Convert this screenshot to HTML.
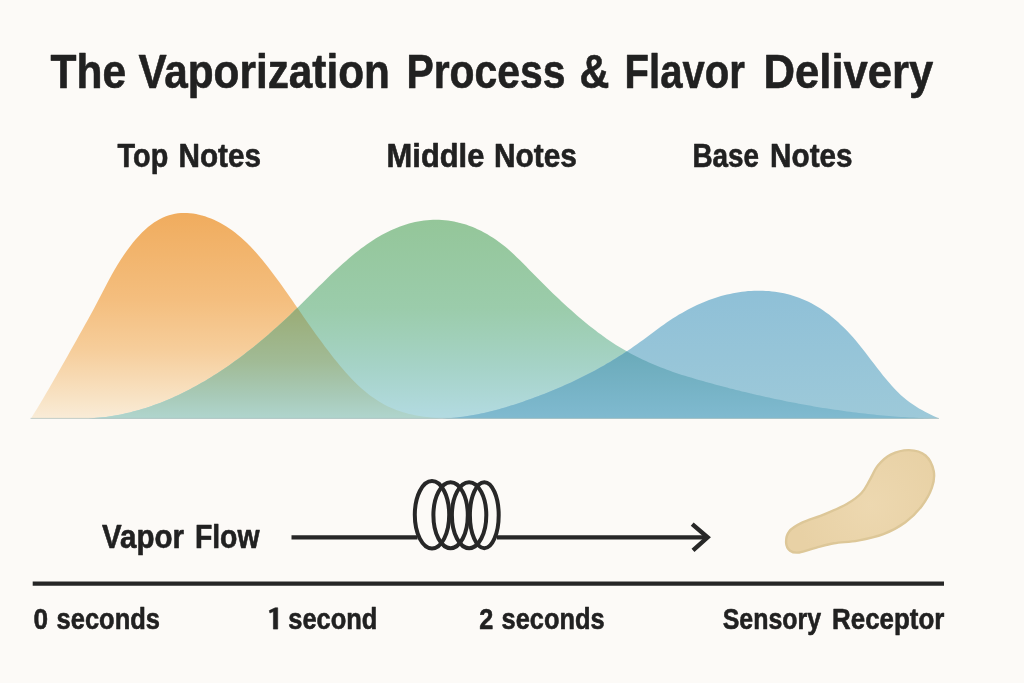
<!DOCTYPE html>
<html><head><meta charset="utf-8">
<style>
html,body{margin:0;padding:0;background:#fcfaf7;}
body{width:1024px;height:683px;overflow:hidden;font-family:"Liberation Sans",sans-serif;}
svg{display:block}
text{font-family:"Liberation Sans",sans-serif;font-weight:bold;fill:#212121;stroke:#212121;stroke-width:0.6px;stroke-linejoin:round;}
</style></head><body>
<svg width="1024" height="683" viewBox="0 0 1024 683">
<defs>
<filter id="nf" x="0" y="0" width="1024" height="683" filterUnits="userSpaceOnUse"><feOffset dx="0" dy="0"/></filter>
<linearGradient id="go" x1="0" y1="213" x2="0" y2="419" gradientUnits="userSpaceOnUse">
<stop offset="0" stop-color="#f0ac5e"/><stop offset="0.42" stop-color="#f4be7e"/><stop offset="0.66" stop-color="#f6cd9a"/><stop offset="0.9" stop-color="#f8e3c5"/><stop offset="1" stop-color="#f9ecd8"/></linearGradient>
<linearGradient id="gg" x1="0" y1="219" x2="0" y2="419" gradientUnits="userSpaceOnUse">
<stop offset="0" stop-color="#94c699"/><stop offset="0.45" stop-color="#9bccab"/><stop offset="0.75" stop-color="#a6d3c8"/><stop offset="1" stop-color="#b3dbe2"/></linearGradient>
<linearGradient id="gb" x1="0" y1="291" x2="0" y2="419" gradientUnits="userSpaceOnUse">
<stop offset="0" stop-color="#8fc0d7"/><stop offset="1" stop-color="#9dc9d9"/></linearGradient>
<linearGradient id="gog" x1="0" y1="305" x2="0" y2="419" gradientUnits="userSpaceOnUse">
<stop offset="0" stop-color="#9aab74"/><stop offset="0.5" stop-color="#a1bb96"/><stop offset="0.8" stop-color="#a8cab8"/><stop offset="1" stop-color="#b0d5ce"/></linearGradient>
<linearGradient id="ggb" x1="0" y1="350" x2="0" y2="419" gradientUnits="userSpaceOnUse">
<stop offset="0" stop-color="#6aaab9"/><stop offset="1" stop-color="#80bad0"/></linearGradient>
<radialGradient id="gblob" cx="870" cy="505" r="75" gradientUnits="userSpaceOnUse"><stop offset="0" stop-color="#edd8b0"/><stop offset="1" stop-color="#e8d1a5"/></radialGradient>
<clipPath id="co"><path d="M31.0 418.5 L34.0 413.6 L37.0 408.7 L40.0 403.7 L43.0 398.7 L46.0 393.6 L49.0 388.4 L52.0 383.2 L55.0 378.0 L58.0 372.8 L61.0 367.5 L64.0 362.2 L67.0 356.9 L70.0 351.6 L73.0 346.2 L76.0 340.9 L79.0 335.6 L82.0 330.2 L85.0 324.8 L88.0 319.4 L91.0 313.9 L94.0 308.4 L97.0 302.7 L100.0 297.0 L103.0 291.2 L106.0 285.4 L109.0 279.8 L112.0 274.3 L115.0 269.0 L118.0 264.0 L121.0 259.3 L124.0 254.7 L127.0 250.4 L130.0 246.4 L133.0 242.6 L136.0 239.0 L139.0 235.7 L142.0 232.6 L145.0 229.8 L148.0 227.1 L151.0 224.8 L154.0 222.6 L157.0 220.7 L160.0 219.0 L163.0 217.6 L166.0 216.3 L169.0 215.3 L172.0 214.5 L175.0 213.8 L178.0 213.3 L181.0 213.1 L184.0 212.9 L187.0 213.0 L190.0 213.2 L193.0 213.5 L196.0 214.0 L199.0 214.7 L202.0 215.4 L205.0 216.3 L208.0 217.4 L211.0 218.5 L214.0 219.8 L217.0 221.2 L220.0 222.8 L223.0 224.4 L226.0 226.3 L229.0 228.2 L232.0 230.3 L235.0 232.6 L238.0 235.0 L241.0 237.5 L244.0 240.2 L247.0 243.1 L250.0 246.1 L253.0 249.2 L256.0 252.5 L259.0 256.0 L262.0 259.5 L265.0 263.2 L268.0 267.0 L271.0 270.9 L274.0 274.9 L277.0 279.0 L280.0 283.1 L283.0 287.3 L286.0 291.5 L289.0 295.8 L292.0 300.1 L295.0 304.4 L298.0 308.7 L301.0 313.1 L304.0 317.4 L307.0 321.7 L310.0 325.9 L313.0 330.2 L316.0 334.4 L319.0 338.5 L322.0 342.6 L325.0 346.7 L328.0 350.6 L331.0 354.5 L334.0 358.4 L337.0 362.1 L340.0 365.7 L343.0 369.3 L346.0 372.7 L349.0 376.0 L352.0 379.2 L355.0 382.3 L358.0 385.2 L361.0 388.0 L364.0 390.6 L367.0 393.1 L370.0 395.4 L373.0 397.6 L376.0 399.6 L379.0 401.5 L382.0 403.2 L385.0 404.9 L388.0 406.4 L391.0 407.8 L394.0 409.0 L397.0 410.2 L400.0 411.3 L403.0 412.2 L406.0 413.1 L409.0 413.9 L412.0 414.6 L415.0 415.3 L418.0 415.8 L421.0 416.3 L424.0 416.7 L427.0 417.1 L430.0 417.5 L433.0 417.7 L436.0 418.0 L439.0 418.2 L442.0 418.4 L445.0 418.5Z"/></clipPath>
<clipPath id="cg"><path d="M85.0 418.5 L88.0 418.4 L91.0 418.3 L94.0 418.1 L97.0 417.8 L100.0 417.6 L103.0 417.2 L106.0 416.9 L109.0 416.5 L112.0 416.0 L115.0 415.5 L118.0 415.0 L121.0 414.4 L124.0 413.8 L127.0 413.1 L130.0 412.4 L133.0 411.6 L136.0 410.8 L139.0 410.0 L142.0 409.1 L145.0 408.2 L148.0 407.2 L151.0 406.2 L154.0 405.1 L157.0 404.0 L160.0 402.9 L163.0 401.7 L166.0 400.5 L169.0 399.2 L172.0 397.9 L175.0 396.6 L178.0 395.2 L181.0 393.8 L184.0 392.3 L187.0 390.8 L190.0 389.2 L193.0 387.6 L196.0 386.0 L199.0 384.3 L202.0 382.6 L205.0 380.9 L208.0 379.1 L211.0 377.2 L214.0 375.3 L217.0 373.4 L220.0 371.5 L223.0 369.5 L226.0 367.4 L229.0 365.4 L232.0 363.3 L235.0 361.1 L238.0 358.9 L241.0 356.7 L244.0 354.4 L247.0 352.1 L250.0 349.8 L253.0 347.4 L256.0 345.0 L259.0 342.5 L262.0 340.0 L265.0 337.5 L268.0 334.9 L271.0 332.3 L274.0 329.6 L277.0 327.0 L280.0 324.2 L283.0 321.5 L286.0 318.7 L289.0 315.9 L292.0 313.0 L295.0 310.1 L298.0 307.2 L301.0 304.3 L304.0 301.3 L307.0 298.3 L310.0 295.3 L313.0 292.3 L316.0 289.3 L319.0 286.3 L322.0 283.4 L325.0 280.4 L328.0 277.5 L331.0 274.6 L334.0 271.8 L337.0 269.0 L340.0 266.2 L343.0 263.5 L346.0 260.9 L349.0 258.3 L352.0 255.8 L355.0 253.3 L358.0 250.9 L361.0 248.6 L364.0 246.4 L367.0 244.3 L370.0 242.2 L373.0 240.2 L376.0 238.3 L379.0 236.5 L382.0 234.8 L385.0 233.2 L388.0 231.7 L391.0 230.3 L394.0 228.9 L397.0 227.7 L400.0 226.5 L403.0 225.4 L406.0 224.5 L409.0 223.6 L412.0 222.8 L415.0 222.1 L418.0 221.5 L421.0 220.9 L424.0 220.5 L427.0 220.2 L430.0 220.0 L433.0 219.8 L436.0 219.8 L439.0 219.8 L442.0 220.0 L445.0 220.2 L448.0 220.6 L451.0 221.0 L454.0 221.5 L457.0 222.2 L460.0 222.9 L463.0 223.7 L466.0 224.6 L469.0 225.7 L472.0 226.8 L475.0 228.0 L478.0 229.4 L481.0 230.8 L484.0 232.4 L487.0 234.1 L490.0 235.9 L493.0 237.8 L496.0 239.8 L499.0 242.0 L502.0 244.2 L505.0 246.6 L508.0 249.1 L511.0 251.8 L514.0 254.5 L517.0 257.4 L520.0 260.3 L523.0 263.3 L526.0 266.3 L529.0 269.4 L532.0 272.4 L535.0 275.5 L538.0 278.5 L541.0 281.6 L544.0 284.6 L547.0 287.5 L550.0 290.5 L553.0 293.4 L556.0 296.3 L559.0 299.1 L562.0 301.9 L565.0 304.7 L568.0 307.4 L571.0 310.1 L574.0 312.8 L577.0 315.4 L580.0 317.9 L583.0 320.5 L586.0 322.9 L589.0 325.4 L592.0 327.8 L595.0 330.1 L598.0 332.4 L601.0 334.6 L604.0 336.8 L607.0 338.9 L610.0 340.9 L613.0 342.9 L616.0 344.9 L619.0 346.7 L622.0 348.6 L625.0 350.3 L628.0 352.0 L631.0 353.7 L634.0 355.2 L637.0 356.8 L640.0 358.3 L643.0 359.7 L646.0 361.1 L649.0 362.5 L652.0 363.8 L655.0 365.0 L658.0 366.3 L661.0 367.4 L664.0 368.6 L667.0 369.7 L670.0 370.8 L673.0 371.9 L676.0 372.9 L679.0 373.9 L682.0 374.9 L685.0 375.8 L688.0 376.7 L691.0 377.6 L694.0 378.5 L697.0 379.4 L700.0 380.3 L703.0 381.1 L706.0 382.0 L709.0 382.8 L712.0 383.6 L715.0 384.4 L718.0 385.2 L721.0 386.0 L724.0 386.8 L727.0 387.6 L730.0 388.4 L733.0 389.1 L736.0 389.9 L739.0 390.6 L742.0 391.4 L745.0 392.1 L748.0 392.8 L751.0 393.5 L754.0 394.2 L757.0 394.9 L760.0 395.6 L763.0 396.3 L766.0 396.9 L769.0 397.6 L772.0 398.3 L775.0 398.9 L778.0 399.5 L781.0 400.1 L784.0 400.8 L787.0 401.4 L790.0 402.0 L793.0 402.5 L796.0 403.1 L799.0 403.7 L802.0 404.2 L805.0 404.8 L808.0 405.3 L811.0 405.8 L814.0 406.4 L817.0 406.9 L820.0 407.4 L823.0 407.9 L826.0 408.3 L829.0 408.8 L832.0 409.3 L835.0 409.7 L838.0 410.1 L841.0 410.6 L844.0 411.0 L847.0 411.4 L850.0 411.8 L853.0 412.2 L856.0 412.5 L859.0 412.9 L862.0 413.3 L865.0 413.6 L868.0 413.9 L871.0 414.3 L874.0 414.6 L877.0 414.9 L880.0 415.2 L883.0 415.4 L886.0 415.7 L889.0 416.0 L892.0 416.2 L895.0 416.4 L898.0 416.7 L901.0 416.9 L904.0 417.1 L907.0 417.3 L910.0 417.5 L913.0 417.6 L916.0 417.8 L919.0 417.9 L922.0 418.1 L925.0 418.2 L928.0 418.3 L931.0 418.4 L934.0 418.5 L936.0 418.5Z"/></clipPath>
</defs>
<rect width="1024" height="683" fill="#fcfaf7"/>
<g filter="url(#nf)">
<text x="50.50" y="87.70" font-size="47.50" textLength="75.51" lengthAdjust="spacingAndGlyphs" stroke-width="1">The</text>
<text x="138.40" y="87.70" font-size="47.50" textLength="251.42" lengthAdjust="spacingAndGlyphs" stroke-width="1">Vaporization</text>
<text x="406.40" y="87.70" font-size="47.50" textLength="158.97" lengthAdjust="spacingAndGlyphs" stroke-width="1">Process</text>
<text x="579.40" y="87.70" font-size="47.50" textLength="29.89" lengthAdjust="spacingAndGlyphs" stroke-width="1">&amp;</text>
<text x="624.60" y="87.70" font-size="47.50" textLength="120.34" lengthAdjust="spacingAndGlyphs" stroke-width="1">Flavor</text>
<text x="763.50" y="87.70" font-size="47.50" textLength="169.87" lengthAdjust="spacingAndGlyphs" stroke-width="1">Delivery</text>
<text x="117.60" y="166.50" font-size="32.50" textLength="50.65" lengthAdjust="spacingAndGlyphs">Top</text><text x="178.50" y="166.50" font-size="32.50" textLength="82.55" lengthAdjust="spacingAndGlyphs">Notes</text>
<text x="386.60" y="166.50" font-size="32.50" textLength="97.75" lengthAdjust="spacingAndGlyphs">Middle</text><text x="494.00" y="166.50" font-size="32.50" textLength="82.95" lengthAdjust="spacingAndGlyphs">Notes</text>
<text x="692.50" y="166.50" font-size="32.50" textLength="66.62" lengthAdjust="spacingAndGlyphs">Base</text><text x="770.10" y="166.50" font-size="32.50" textLength="82.45" lengthAdjust="spacingAndGlyphs">Notes</text>
<path d="M31.0 418.5 L34.0 413.6 L37.0 408.7 L40.0 403.7 L43.0 398.7 L46.0 393.6 L49.0 388.4 L52.0 383.2 L55.0 378.0 L58.0 372.8 L61.0 367.5 L64.0 362.2 L67.0 356.9 L70.0 351.6 L73.0 346.2 L76.0 340.9 L79.0 335.6 L82.0 330.2 L85.0 324.8 L88.0 319.4 L91.0 313.9 L94.0 308.4 L97.0 302.7 L100.0 297.0 L103.0 291.2 L106.0 285.4 L109.0 279.8 L112.0 274.3 L115.0 269.0 L118.0 264.0 L121.0 259.3 L124.0 254.7 L127.0 250.4 L130.0 246.4 L133.0 242.6 L136.0 239.0 L139.0 235.7 L142.0 232.6 L145.0 229.8 L148.0 227.1 L151.0 224.8 L154.0 222.6 L157.0 220.7 L160.0 219.0 L163.0 217.6 L166.0 216.3 L169.0 215.3 L172.0 214.5 L175.0 213.8 L178.0 213.3 L181.0 213.1 L184.0 212.9 L187.0 213.0 L190.0 213.2 L193.0 213.5 L196.0 214.0 L199.0 214.7 L202.0 215.4 L205.0 216.3 L208.0 217.4 L211.0 218.5 L214.0 219.8 L217.0 221.2 L220.0 222.8 L223.0 224.4 L226.0 226.3 L229.0 228.2 L232.0 230.3 L235.0 232.6 L238.0 235.0 L241.0 237.5 L244.0 240.2 L247.0 243.1 L250.0 246.1 L253.0 249.2 L256.0 252.5 L259.0 256.0 L262.0 259.5 L265.0 263.2 L268.0 267.0 L271.0 270.9 L274.0 274.9 L277.0 279.0 L280.0 283.1 L283.0 287.3 L286.0 291.5 L289.0 295.8 L292.0 300.1 L295.0 304.4 L298.0 308.7 L301.0 313.1 L304.0 317.4 L307.0 321.7 L310.0 325.9 L313.0 330.2 L316.0 334.4 L319.0 338.5 L322.0 342.6 L325.0 346.7 L328.0 350.6 L331.0 354.5 L334.0 358.4 L337.0 362.1 L340.0 365.7 L343.0 369.3 L346.0 372.7 L349.0 376.0 L352.0 379.2 L355.0 382.3 L358.0 385.2 L361.0 388.0 L364.0 390.6 L367.0 393.1 L370.0 395.4 L373.0 397.6 L376.0 399.6 L379.0 401.5 L382.0 403.2 L385.0 404.9 L388.0 406.4 L391.0 407.8 L394.0 409.0 L397.0 410.2 L400.0 411.3 L403.0 412.2 L406.0 413.1 L409.0 413.9 L412.0 414.6 L415.0 415.3 L418.0 415.8 L421.0 416.3 L424.0 416.7 L427.0 417.1 L430.0 417.5 L433.0 417.7 L436.0 418.0 L439.0 418.2 L442.0 418.4 L445.0 418.5Z" fill="url(#go)"/>
<path d="M85.0 418.5 L88.0 418.4 L91.0 418.3 L94.0 418.1 L97.0 417.8 L100.0 417.6 L103.0 417.2 L106.0 416.9 L109.0 416.5 L112.0 416.0 L115.0 415.5 L118.0 415.0 L121.0 414.4 L124.0 413.8 L127.0 413.1 L130.0 412.4 L133.0 411.6 L136.0 410.8 L139.0 410.0 L142.0 409.1 L145.0 408.2 L148.0 407.2 L151.0 406.2 L154.0 405.1 L157.0 404.0 L160.0 402.9 L163.0 401.7 L166.0 400.5 L169.0 399.2 L172.0 397.9 L175.0 396.6 L178.0 395.2 L181.0 393.8 L184.0 392.3 L187.0 390.8 L190.0 389.2 L193.0 387.6 L196.0 386.0 L199.0 384.3 L202.0 382.6 L205.0 380.9 L208.0 379.1 L211.0 377.2 L214.0 375.3 L217.0 373.4 L220.0 371.5 L223.0 369.5 L226.0 367.4 L229.0 365.4 L232.0 363.3 L235.0 361.1 L238.0 358.9 L241.0 356.7 L244.0 354.4 L247.0 352.1 L250.0 349.8 L253.0 347.4 L256.0 345.0 L259.0 342.5 L262.0 340.0 L265.0 337.5 L268.0 334.9 L271.0 332.3 L274.0 329.6 L277.0 327.0 L280.0 324.2 L283.0 321.5 L286.0 318.7 L289.0 315.9 L292.0 313.0 L295.0 310.1 L298.0 307.2 L301.0 304.3 L304.0 301.3 L307.0 298.3 L310.0 295.3 L313.0 292.3 L316.0 289.3 L319.0 286.3 L322.0 283.4 L325.0 280.4 L328.0 277.5 L331.0 274.6 L334.0 271.8 L337.0 269.0 L340.0 266.2 L343.0 263.5 L346.0 260.9 L349.0 258.3 L352.0 255.8 L355.0 253.3 L358.0 250.9 L361.0 248.6 L364.0 246.4 L367.0 244.3 L370.0 242.2 L373.0 240.2 L376.0 238.3 L379.0 236.5 L382.0 234.8 L385.0 233.2 L388.0 231.7 L391.0 230.3 L394.0 228.9 L397.0 227.7 L400.0 226.5 L403.0 225.4 L406.0 224.5 L409.0 223.6 L412.0 222.8 L415.0 222.1 L418.0 221.5 L421.0 220.9 L424.0 220.5 L427.0 220.2 L430.0 220.0 L433.0 219.8 L436.0 219.8 L439.0 219.8 L442.0 220.0 L445.0 220.2 L448.0 220.6 L451.0 221.0 L454.0 221.5 L457.0 222.2 L460.0 222.9 L463.0 223.7 L466.0 224.6 L469.0 225.7 L472.0 226.8 L475.0 228.0 L478.0 229.4 L481.0 230.8 L484.0 232.4 L487.0 234.1 L490.0 235.9 L493.0 237.8 L496.0 239.8 L499.0 242.0 L502.0 244.2 L505.0 246.6 L508.0 249.1 L511.0 251.8 L514.0 254.5 L517.0 257.4 L520.0 260.3 L523.0 263.3 L526.0 266.3 L529.0 269.4 L532.0 272.4 L535.0 275.5 L538.0 278.5 L541.0 281.6 L544.0 284.6 L547.0 287.5 L550.0 290.5 L553.0 293.4 L556.0 296.3 L559.0 299.1 L562.0 301.9 L565.0 304.7 L568.0 307.4 L571.0 310.1 L574.0 312.8 L577.0 315.4 L580.0 317.9 L583.0 320.5 L586.0 322.9 L589.0 325.4 L592.0 327.8 L595.0 330.1 L598.0 332.4 L601.0 334.6 L604.0 336.8 L607.0 338.9 L610.0 340.9 L613.0 342.9 L616.0 344.9 L619.0 346.7 L622.0 348.6 L625.0 350.3 L628.0 352.0 L631.0 353.7 L634.0 355.2 L637.0 356.8 L640.0 358.3 L643.0 359.7 L646.0 361.1 L649.0 362.5 L652.0 363.8 L655.0 365.0 L658.0 366.3 L661.0 367.4 L664.0 368.6 L667.0 369.7 L670.0 370.8 L673.0 371.9 L676.0 372.9 L679.0 373.9 L682.0 374.9 L685.0 375.8 L688.0 376.7 L691.0 377.6 L694.0 378.5 L697.0 379.4 L700.0 380.3 L703.0 381.1 L706.0 382.0 L709.0 382.8 L712.0 383.6 L715.0 384.4 L718.0 385.2 L721.0 386.0 L724.0 386.8 L727.0 387.6 L730.0 388.4 L733.0 389.1 L736.0 389.9 L739.0 390.6 L742.0 391.4 L745.0 392.1 L748.0 392.8 L751.0 393.5 L754.0 394.2 L757.0 394.9 L760.0 395.6 L763.0 396.3 L766.0 396.9 L769.0 397.6 L772.0 398.3 L775.0 398.9 L778.0 399.5 L781.0 400.1 L784.0 400.8 L787.0 401.4 L790.0 402.0 L793.0 402.5 L796.0 403.1 L799.0 403.7 L802.0 404.2 L805.0 404.8 L808.0 405.3 L811.0 405.8 L814.0 406.4 L817.0 406.9 L820.0 407.4 L823.0 407.9 L826.0 408.3 L829.0 408.8 L832.0 409.3 L835.0 409.7 L838.0 410.1 L841.0 410.6 L844.0 411.0 L847.0 411.4 L850.0 411.8 L853.0 412.2 L856.0 412.5 L859.0 412.9 L862.0 413.3 L865.0 413.6 L868.0 413.9 L871.0 414.3 L874.0 414.6 L877.0 414.9 L880.0 415.2 L883.0 415.4 L886.0 415.7 L889.0 416.0 L892.0 416.2 L895.0 416.4 L898.0 416.7 L901.0 416.9 L904.0 417.1 L907.0 417.3 L910.0 417.5 L913.0 417.6 L916.0 417.8 L919.0 417.9 L922.0 418.1 L925.0 418.2 L928.0 418.3 L931.0 418.4 L934.0 418.5 L936.0 418.5Z" fill="url(#gg)"/>
<path d="M436.0 418.5 L439.0 418.5 L442.0 418.4 L445.0 418.3 L448.0 418.1 L451.0 417.9 L454.0 417.7 L457.0 417.4 L460.0 417.0 L463.0 416.7 L466.0 416.2 L469.0 415.8 L472.0 415.3 L475.0 414.7 L478.0 414.2 L481.0 413.6 L484.0 412.9 L487.0 412.2 L490.0 411.5 L493.0 410.8 L496.0 410.0 L499.0 409.2 L502.0 408.3 L505.0 407.5 L508.0 406.6 L511.0 405.6 L514.0 404.7 L517.0 403.7 L520.0 402.7 L523.0 401.7 L526.0 400.6 L529.0 399.5 L532.0 398.5 L535.0 397.3 L538.0 396.2 L541.0 395.0 L544.0 393.9 L547.0 392.7 L550.0 391.5 L553.0 390.2 L556.0 389.0 L559.0 387.7 L562.0 386.4 L565.0 385.1 L568.0 383.7 L571.0 382.4 L574.0 381.0 L577.0 379.6 L580.0 378.1 L583.0 376.6 L586.0 375.1 L589.0 373.6 L592.0 372.0 L595.0 370.4 L598.0 368.8 L601.0 367.1 L604.0 365.4 L607.0 363.6 L610.0 361.9 L613.0 360.1 L616.0 358.2 L619.0 356.3 L622.0 354.4 L625.0 352.4 L628.0 350.4 L631.0 348.4 L634.0 346.3 L637.0 344.2 L640.0 342.1 L643.0 339.9 L646.0 337.7 L649.0 335.4 L652.0 333.2 L655.0 330.9 L658.0 328.7 L661.0 326.5 L664.0 324.4 L667.0 322.3 L670.0 320.3 L673.0 318.3 L676.0 316.4 L679.0 314.6 L682.0 312.9 L685.0 311.2 L688.0 309.6 L691.0 308.0 L694.0 306.5 L697.0 305.1 L700.0 303.8 L703.0 302.5 L706.0 301.2 L709.0 300.1 L712.0 299.0 L715.0 298.0 L718.0 297.0 L721.0 296.1 L724.0 295.3 L727.0 294.5 L730.0 293.9 L733.0 293.2 L736.0 292.7 L739.0 292.2 L742.0 291.8 L745.0 291.4 L748.0 291.1 L751.0 290.9 L754.0 290.8 L757.0 290.7 L760.0 290.7 L763.0 290.8 L766.0 290.9 L769.0 291.1 L772.0 291.4 L775.0 291.7 L778.0 292.2 L781.0 292.7 L784.0 293.3 L787.0 294.0 L790.0 294.8 L793.0 295.7 L796.0 296.7 L799.0 297.7 L802.0 298.9 L805.0 300.2 L808.0 301.6 L811.0 303.1 L814.0 304.7 L817.0 306.5 L820.0 308.3 L823.0 310.3 L826.0 312.4 L829.0 314.6 L832.0 317.0 L835.0 319.5 L838.0 322.1 L841.0 324.9 L844.0 327.8 L847.0 330.8 L850.0 334.0 L853.0 337.3 L856.0 340.8 L859.0 344.5 L862.0 348.2 L865.0 352.1 L868.0 355.9 L871.0 359.9 L874.0 363.8 L877.0 367.7 L880.0 371.6 L883.0 375.4 L886.0 379.1 L889.0 382.6 L892.0 386.1 L895.0 389.3 L898.0 392.3 L901.0 395.2 L904.0 397.8 L907.0 400.2 L910.0 402.5 L913.0 404.6 L916.0 406.6 L919.0 408.4 L922.0 410.1 L925.0 411.8 L928.0 413.3 L931.0 414.8 L934.0 416.2 L937.0 417.6 L939.0 418.5Z" fill="url(#gb)"/>
<g clip-path="url(#co)"><path d="M85.0 418.5 L88.0 418.4 L91.0 418.3 L94.0 418.1 L97.0 417.8 L100.0 417.6 L103.0 417.2 L106.0 416.9 L109.0 416.5 L112.0 416.0 L115.0 415.5 L118.0 415.0 L121.0 414.4 L124.0 413.8 L127.0 413.1 L130.0 412.4 L133.0 411.6 L136.0 410.8 L139.0 410.0 L142.0 409.1 L145.0 408.2 L148.0 407.2 L151.0 406.2 L154.0 405.1 L157.0 404.0 L160.0 402.9 L163.0 401.7 L166.0 400.5 L169.0 399.2 L172.0 397.9 L175.0 396.6 L178.0 395.2 L181.0 393.8 L184.0 392.3 L187.0 390.8 L190.0 389.2 L193.0 387.6 L196.0 386.0 L199.0 384.3 L202.0 382.6 L205.0 380.9 L208.0 379.1 L211.0 377.2 L214.0 375.3 L217.0 373.4 L220.0 371.5 L223.0 369.5 L226.0 367.4 L229.0 365.4 L232.0 363.3 L235.0 361.1 L238.0 358.9 L241.0 356.7 L244.0 354.4 L247.0 352.1 L250.0 349.8 L253.0 347.4 L256.0 345.0 L259.0 342.5 L262.0 340.0 L265.0 337.5 L268.0 334.9 L271.0 332.3 L274.0 329.6 L277.0 327.0 L280.0 324.2 L283.0 321.5 L286.0 318.7 L289.0 315.9 L292.0 313.0 L295.0 310.1 L298.0 307.2 L301.0 304.3 L304.0 301.3 L307.0 298.3 L310.0 295.3 L313.0 292.3 L316.0 289.3 L319.0 286.3 L322.0 283.4 L325.0 280.4 L328.0 277.5 L331.0 274.6 L334.0 271.8 L337.0 269.0 L340.0 266.2 L343.0 263.5 L346.0 260.9 L349.0 258.3 L352.0 255.8 L355.0 253.3 L358.0 250.9 L361.0 248.6 L364.0 246.4 L367.0 244.3 L370.0 242.2 L373.0 240.2 L376.0 238.3 L379.0 236.5 L382.0 234.8 L385.0 233.2 L388.0 231.7 L391.0 230.3 L394.0 228.9 L397.0 227.7 L400.0 226.5 L403.0 225.4 L406.0 224.5 L409.0 223.6 L412.0 222.8 L415.0 222.1 L418.0 221.5 L421.0 220.9 L424.0 220.5 L427.0 220.2 L430.0 220.0 L433.0 219.8 L436.0 219.8 L439.0 219.8 L442.0 220.0 L445.0 220.2 L448.0 220.6 L451.0 221.0 L454.0 221.5 L457.0 222.2 L460.0 222.9 L463.0 223.7 L466.0 224.6 L469.0 225.7 L472.0 226.8 L475.0 228.0 L478.0 229.4 L481.0 230.8 L484.0 232.4 L487.0 234.1 L490.0 235.9 L493.0 237.8 L496.0 239.8 L499.0 242.0 L502.0 244.2 L505.0 246.6 L508.0 249.1 L511.0 251.8 L514.0 254.5 L517.0 257.4 L520.0 260.3 L523.0 263.3 L526.0 266.3 L529.0 269.4 L532.0 272.4 L535.0 275.5 L538.0 278.5 L541.0 281.6 L544.0 284.6 L547.0 287.5 L550.0 290.5 L553.0 293.4 L556.0 296.3 L559.0 299.1 L562.0 301.9 L565.0 304.7 L568.0 307.4 L571.0 310.1 L574.0 312.8 L577.0 315.4 L580.0 317.9 L583.0 320.5 L586.0 322.9 L589.0 325.4 L592.0 327.8 L595.0 330.1 L598.0 332.4 L601.0 334.6 L604.0 336.8 L607.0 338.9 L610.0 340.9 L613.0 342.9 L616.0 344.9 L619.0 346.7 L622.0 348.6 L625.0 350.3 L628.0 352.0 L631.0 353.7 L634.0 355.2 L637.0 356.8 L640.0 358.3 L643.0 359.7 L646.0 361.1 L649.0 362.5 L652.0 363.8 L655.0 365.0 L658.0 366.3 L661.0 367.4 L664.0 368.6 L667.0 369.7 L670.0 370.8 L673.0 371.9 L676.0 372.9 L679.0 373.9 L682.0 374.9 L685.0 375.8 L688.0 376.7 L691.0 377.6 L694.0 378.5 L697.0 379.4 L700.0 380.3 L703.0 381.1 L706.0 382.0 L709.0 382.8 L712.0 383.6 L715.0 384.4 L718.0 385.2 L721.0 386.0 L724.0 386.8 L727.0 387.6 L730.0 388.4 L733.0 389.1 L736.0 389.9 L739.0 390.6 L742.0 391.4 L745.0 392.1 L748.0 392.8 L751.0 393.5 L754.0 394.2 L757.0 394.9 L760.0 395.6 L763.0 396.3 L766.0 396.9 L769.0 397.6 L772.0 398.3 L775.0 398.9 L778.0 399.5 L781.0 400.1 L784.0 400.8 L787.0 401.4 L790.0 402.0 L793.0 402.5 L796.0 403.1 L799.0 403.7 L802.0 404.2 L805.0 404.8 L808.0 405.3 L811.0 405.8 L814.0 406.4 L817.0 406.9 L820.0 407.4 L823.0 407.9 L826.0 408.3 L829.0 408.8 L832.0 409.3 L835.0 409.7 L838.0 410.1 L841.0 410.6 L844.0 411.0 L847.0 411.4 L850.0 411.8 L853.0 412.2 L856.0 412.5 L859.0 412.9 L862.0 413.3 L865.0 413.6 L868.0 413.9 L871.0 414.3 L874.0 414.6 L877.0 414.9 L880.0 415.2 L883.0 415.4 L886.0 415.7 L889.0 416.0 L892.0 416.2 L895.0 416.4 L898.0 416.7 L901.0 416.9 L904.0 417.1 L907.0 417.3 L910.0 417.5 L913.0 417.6 L916.0 417.8 L919.0 417.9 L922.0 418.1 L925.0 418.2 L928.0 418.3 L931.0 418.4 L934.0 418.5 L936.0 418.5Z" fill="url(#gog)"/></g>
<g clip-path="url(#cg)"><path d="M436.0 418.5 L439.0 418.5 L442.0 418.4 L445.0 418.3 L448.0 418.1 L451.0 417.9 L454.0 417.7 L457.0 417.4 L460.0 417.0 L463.0 416.7 L466.0 416.2 L469.0 415.8 L472.0 415.3 L475.0 414.7 L478.0 414.2 L481.0 413.6 L484.0 412.9 L487.0 412.2 L490.0 411.5 L493.0 410.8 L496.0 410.0 L499.0 409.2 L502.0 408.3 L505.0 407.5 L508.0 406.6 L511.0 405.6 L514.0 404.7 L517.0 403.7 L520.0 402.7 L523.0 401.7 L526.0 400.6 L529.0 399.5 L532.0 398.5 L535.0 397.3 L538.0 396.2 L541.0 395.0 L544.0 393.9 L547.0 392.7 L550.0 391.5 L553.0 390.2 L556.0 389.0 L559.0 387.7 L562.0 386.4 L565.0 385.1 L568.0 383.7 L571.0 382.4 L574.0 381.0 L577.0 379.6 L580.0 378.1 L583.0 376.6 L586.0 375.1 L589.0 373.6 L592.0 372.0 L595.0 370.4 L598.0 368.8 L601.0 367.1 L604.0 365.4 L607.0 363.6 L610.0 361.9 L613.0 360.1 L616.0 358.2 L619.0 356.3 L622.0 354.4 L625.0 352.4 L628.0 350.4 L631.0 348.4 L634.0 346.3 L637.0 344.2 L640.0 342.1 L643.0 339.9 L646.0 337.7 L649.0 335.4 L652.0 333.2 L655.0 330.9 L658.0 328.7 L661.0 326.5 L664.0 324.4 L667.0 322.3 L670.0 320.3 L673.0 318.3 L676.0 316.4 L679.0 314.6 L682.0 312.9 L685.0 311.2 L688.0 309.6 L691.0 308.0 L694.0 306.5 L697.0 305.1 L700.0 303.8 L703.0 302.5 L706.0 301.2 L709.0 300.1 L712.0 299.0 L715.0 298.0 L718.0 297.0 L721.0 296.1 L724.0 295.3 L727.0 294.5 L730.0 293.9 L733.0 293.2 L736.0 292.7 L739.0 292.2 L742.0 291.8 L745.0 291.4 L748.0 291.1 L751.0 290.9 L754.0 290.8 L757.0 290.7 L760.0 290.7 L763.0 290.8 L766.0 290.9 L769.0 291.1 L772.0 291.4 L775.0 291.7 L778.0 292.2 L781.0 292.7 L784.0 293.3 L787.0 294.0 L790.0 294.8 L793.0 295.7 L796.0 296.7 L799.0 297.7 L802.0 298.9 L805.0 300.2 L808.0 301.6 L811.0 303.1 L814.0 304.7 L817.0 306.5 L820.0 308.3 L823.0 310.3 L826.0 312.4 L829.0 314.6 L832.0 317.0 L835.0 319.5 L838.0 322.1 L841.0 324.9 L844.0 327.8 L847.0 330.8 L850.0 334.0 L853.0 337.3 L856.0 340.8 L859.0 344.5 L862.0 348.2 L865.0 352.1 L868.0 355.9 L871.0 359.9 L874.0 363.8 L877.0 367.7 L880.0 371.6 L883.0 375.4 L886.0 379.1 L889.0 382.6 L892.0 386.1 L895.0 389.3 L898.0 392.3 L901.0 395.2 L904.0 397.8 L907.0 400.2 L910.0 402.5 L913.0 404.6 L916.0 406.6 L919.0 408.4 L922.0 410.1 L925.0 411.8 L928.0 413.3 L931.0 414.8 L934.0 416.2 L937.0 417.6 L939.0 418.5Z" fill="url(#ggb)"/></g>
<path d="M30.5 418.4H939" stroke="#9fb4b4" stroke-opacity="0.6" stroke-width="1" fill="none"/>
<text x="102.00" y="547.90" font-size="32.50" textLength="81.97" lengthAdjust="spacingAndGlyphs">Vapor</text><text x="194.90" y="547.90" font-size="32.50" textLength="64.62" lengthAdjust="spacingAndGlyphs">Flow</text>
<g fill="none" stroke="#272727" stroke-width="4">
<path d="M291.5 537.4H417.5" stroke-width="4.2"/>
<path d="M497 537.4H706.5" stroke-width="4.2"/>
<path d="M692.2 524.1L707.6 537.4L693 550.4" stroke-width="4.4" stroke-linejoin="miter"/>
<ellipse cx="432" cy="514.8" rx="17.2" ry="33.7"/>
<ellipse cx="450.6" cy="515.2" rx="17.2" ry="33"/>
<ellipse cx="469.1" cy="515.2" rx="17.2" ry="33"/>
<ellipse cx="484.3" cy="515.2" rx="14.4" ry="33"/>
</g>
<path d="M786.1 542.4 C786.0 539.2 786.7 534.7 789.2 531.5 C791.7 528.3 795.2 526.1 801.1 523.2 C807.0 520.3 817.3 517.3 824.9 514.1 C832.5 510.9 840.7 507.5 846.8 504.0 C852.9 500.5 857.7 497.0 861.5 493.0 C865.3 489.0 867.0 484.8 869.7 480.2 C872.4 475.6 874.4 469.9 877.9 465.6 C881.4 461.3 885.5 457.2 890.7 454.6 C895.9 452.0 903.2 450.0 909.0 450.1 C914.8 450.2 921.4 452.0 925.5 455.5 C929.6 459.0 932.6 465.8 933.7 471.1 C934.8 476.5 933.9 481.8 931.9 487.6 C929.9 493.4 926.2 500.1 921.8 505.9 C917.4 511.7 911.8 517.6 905.4 522.3 C899.0 527.0 891.3 531.2 883.4 534.2 C875.5 537.2 866.0 539.1 857.8 540.6 C849.6 542.1 841.0 542.1 834.0 543.3 C827.0 544.5 821.5 546.4 815.7 547.9 C809.9 549.4 803.6 552.0 799.3 552.5 C795.0 553.0 792.3 552.4 790.1 550.7 C787.9 549.0 786.2 545.6 786.1 542.4Z" fill="url(#gblob)" stroke="#ddc798" stroke-width="2.4"/>
<path d="M32.7 583.6H944" stroke="#262626" stroke-width="4.3" fill="none"/>
<text x="33.60" y="629.30" font-size="30.00" textLength="14.53" lengthAdjust="spacingAndGlyphs" stroke-width="0.8">0</text><text x="56.60" y="629.30" font-size="30.00" textLength="103.36" lengthAdjust="spacingAndGlyphs" stroke-width="0.8">seconds</text>
<path d="M277.7 607.8L275.2 607.8L269.3 610.6L269.9 613L273.4 611.6L273.4 629.1L277.7 629.1Z" fill="#212121" stroke="#212121" stroke-width="0.6" stroke-linejoin="round"/><text x="288.30" y="629.30" font-size="30.00" textLength="89.13" lengthAdjust="spacingAndGlyphs" stroke-width="0.8">second</text>
<text x="479.20" y="629.30" font-size="30.00" textLength="14.03" lengthAdjust="spacingAndGlyphs" stroke-width="0.8">2</text><text x="501.50" y="629.30" font-size="30.00" textLength="103.06" lengthAdjust="spacingAndGlyphs" stroke-width="0.8">seconds</text>
<text x="722.70" y="629.30" font-size="30.00" textLength="98.44" lengthAdjust="spacingAndGlyphs" stroke-width="0.8">Sensory</text><text x="832.10" y="629.30" font-size="30.00" textLength="112.29" lengthAdjust="spacingAndGlyphs" stroke-width="0.8">Receptor</text>
</g>
</svg>
</body></html>
